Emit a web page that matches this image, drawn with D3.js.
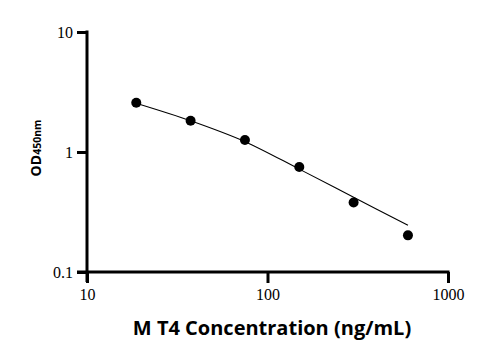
<!DOCTYPE html>
<html>
<head>
<meta charset="utf-8">
<script src="https://cdn.jsdelivr.net/npm/d3@7"></script>
<style>
  body { margin: 0; background: #fff; }
  svg { display: block; }
</style>
</head>
<body>
<svg id="chart" width="500" height="354"></svg>
<script>
// measured points (2-fold dilution series)
const conc = [18.75, 37.5, 75, 150, 300, 600];
const od = [2.57, 1.82, 1.26, 0.75, 0.38, 0.202];

// fitted curve
const fitConc = [19.5, 37.5, 75, 150, 300, 600];
const fitOd = [2.5, 1.82, 1.22, 0.72, 0.42, 0.245];

const xTicks = [10, 100, 1000];
const yTicks = [0.1, 1, 10];

const svg = d3.select("#chart");
const margin = {top: 32, right: 52, bottom: 82, left: 87};

const g = svg.append("g")
    .attr("transform", `translate(${margin.left},${margin.top})`);

const x = d3.scaleLog().domain([10, 1000]).range([0, 361]);
const y = d3.scaleLog().domain([0.1, 10]).range([240, 0]);

// axes
const xAxis = g.append("g")
    .attr("transform", "translate(0,240)")
    .call(d3.axisBottom(x).tickValues(xTicks).tickFormat(d3.format("d")).tickSize(11).tickSizeOuter(0).tickPadding(6));
const yAxis = g.append("g")
    .call(d3.axisLeft(y).tickValues(yTicks).tickFormat(d => d < 1 ? "0.1" : d3.format("d")(d)).tickSize(10).tickSizeOuter(0).tickPadding(4));

[xAxis, yAxis].forEach(a => {
  a.selectAll("path, line").attr("stroke", "#000").attr("stroke-width", 3);
  a.selectAll("text")
    .attr("fill", "#000")
    .style("font-family", "'Liberation Serif', 'Times New Roman', serif")
    .style("font-size", "16px");
});
xAxis.select(".domain").attr("d", "M-10,0H362.5");
yAxis.select(".domain").attr("d", "M0,-1.5V250");

// curve
const line = d3.line()
    .x(d => x(d[0]))
    .y(d => y(d[1]))
    .curve(d3.curveCatmullRom.alpha(0.5));

g.append("path")
    .datum(fitConc.map((c, i) => [c, fitOd[i]]))
    .attr("d", line)
    .attr("fill", "none")
    .attr("stroke", "#000")
    .attr("stroke-width", 1.1);

g.selectAll(".dot")
    .data(conc.map((c, i) => [c, od[i]]))
    .enter().append("circle")
    .attr("class", "dot")
    .attr("cx", d => x(d[0]))
    .attr("cy", d => y(d[1]))
    .attr("r", 5)
    .attr("fill", "#000");

// axis titles
svg.append("text")
    .attr("x", 272)
    .attr("y", 335)
    .attr("text-anchor", "middle")
    .style("font-family", "'Open Sans', 'Noto Sans', sans-serif")
    .style("font-weight", "bold")
    .style("font-size", "20px")
    .text("M T4 Concentration (ng/mL)");

const yl = svg.append("text")
    .attr("transform", "translate(41,148) rotate(-90)")
    .attr("text-anchor", "middle")
    .style("font-family", "'Open Sans', 'Noto Sans', sans-serif")
    .style("font-weight", "bold");
yl.append("tspan").style("font-size", "14px").text("OD");
yl.append("tspan").style("font-size", "10.5px").text("450nm");
</script>
</body>
</html>
